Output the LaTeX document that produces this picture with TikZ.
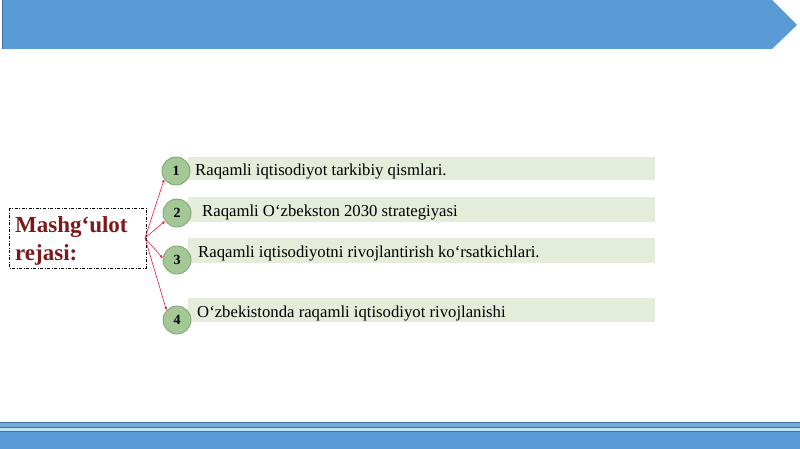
\documentclass[tikz,border=0pt]{standalone}
\usepackage{fontspec}
\setmainfont{Liberation Serif}
\usetikzlibrary{arrows.meta}

\definecolor{bandblue}{HTML}{5B9BD5}
\definecolor{banddark}{HTML}{41719C}
\definecolor{bandlight}{HTML}{BDE4F7}
\definecolor{barfill}{HTML}{E3EDDA}
\definecolor{numfill}{HTML}{A3C795}
\definecolor{numline}{HTML}{7FA274}
\definecolor{planred}{HTML}{7B1A1A}
\definecolor{linkred}{HTML}{E8194A}

\tikzset{
  numdot/.style={circle, draw=numline, line width=0.8pt, fill=numfill,
    minimum size=28pt, inner sep=0pt, font=\bfseries\fontsize{14}{16}\selectfont},
  itembar/.style={fill=barfill, draw=none},
  itemtext/.style={anchor=base west, inner sep=0pt, font=\fontsize{16.7}{20}\selectfont},
  link/.style={linkred, line width=0.6pt, -{Latex[length=3pt,width=3pt]}}
}

\begin{document}
\begin{tikzpicture}[x=1pt,y=-1pt]
  \useasboundingbox (0,0) rectangle (800,449);
  % top banner
  \fill[bandblue] (2,0) -- (772,0) -- (797,25) -- (772,49) -- (2,49) -- cycle;
  \draw[banddark, line width=0.6pt] (2,0) -- (2,49);
  % bottom band
  \fill[bandblue!85!white] (0,422) rectangle (800,427);
  \draw[banddark, line width=0.8pt] (0,422) -- (800,422);
  \draw[banddark, line width=0.6pt] (0,427) -- (800,427);
  \fill[bandlight] (0,427.5) rectangle (800,430.5);
  \fill[bandblue] (0,431) rectangle (800,449);
  \draw[banddark, line width=0.6pt] (0,431) -- (800,431);

  % plan title
  \draw[dash pattern=on 3pt off 1.5pt on 1pt off 1.5pt, line width=0.6pt] (9,208) rectangle (146,268);
  \node[anchor=base west, inner sep=0pt, align=left, text=planred,
    font=\bfseries\fontsize{23}{28}\selectfont] (plan) at (15,260)
    {Mashg‘ulot\\rejasi:};
  \coordinate (hub) at (145,238);

  % bars
  \fill[itembar] (188,157) rectangle (655,180);
  \fill[itembar] (188,197) rectangle (655,222);
  \fill[itembar] (188,238) rectangle (655,263);
  \fill[itembar] (188,298) rectangle (655,322);

  % items
  \node[itemtext] (t1) at (195,176) {Raqamli iqtisodiyot tarkibiy qismlari.};
  \node[itemtext] (t2) at (202,216) {Raqamli O‘zbekston 2030 strategiyasi};
  \node[itemtext] (t3) at (198,257) {Raqamli iqtisodiyotni rivojlantirish ko‘rsatkichlari.};
  \node[itemtext] (t4) at (197,317) {O‘zbekistonda raqamli iqtisodiyot rivojlanishi};

  % numbers
  \node[numdot] (n1) at (176,171) {1};
  \node[numdot] (n2) at (177,213) {2};
  \node[numdot] (n3) at (177,260) {3};
  \node[numdot] (n4) at (177,320) {4};

  % links
  \draw[link] (hub) -- (n1.215);
  \draw[link] (hub) -- (n2.214);
  \draw[link] (hub) -- (n3.173);
  \draw[link] (hub) -- (n4.137);
\end{tikzpicture}
\end{document}
